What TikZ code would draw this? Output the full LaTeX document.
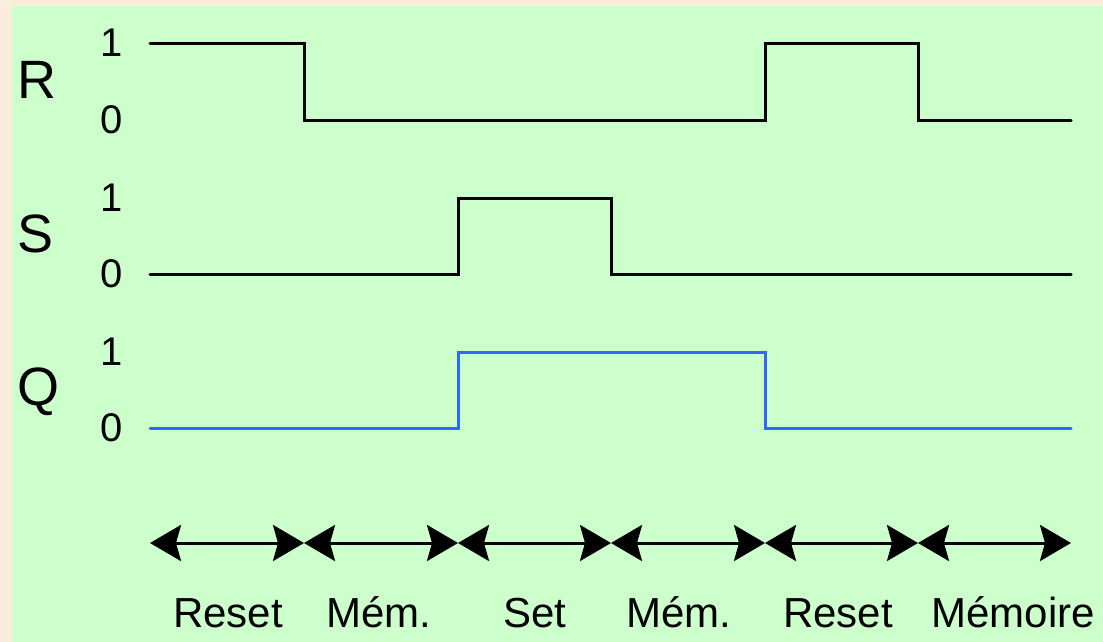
\documentclass[tikz,border=0pt]{standalone}
\usepackage{fontspec}
\setmainfont{Liberation Sans}
\usetikzlibrary{arrows.meta}
\definecolor{bgpeach}{HTML}{FBEDDB}
\definecolor{panelgreen}{HTML}{CCFFCC}
\definecolor{qblue}{HTML}{3366FF}
\begin{document}
\begin{tikzpicture}[x=1pt,y=-1pt,
  sig/.style={line width=3pt, line join=miter, line cap=round},
  qsig/.style={sig, draw=qblue},
  signame/.style={anchor=base west, inner sep=0pt, font=\fontsize{54}{60}\selectfont},
  lvl/.style={anchor=base, inner sep=0pt, font=\fontsize{40}{46}\selectfont},
  phase/.style={anchor=base, inner sep=0pt, font=\fontsize{42}{48}\selectfont},
  span/.style={line width=3pt, {Stealth[length=31pt,width=36pt,inset=5pt]}-{Stealth[length=31pt,width=36pt,inset=5pt]}}
]
\useasboundingbox (0,0) rectangle (1103,642);
\fill[bgpeach] (0,0) rectangle (1103,642);
\fill[panelgreen] (12,6) rectangle (1103,642);

% signal names
\node[signame] (nR) at (17,99) {R};
\node[signame] (nS) at (17,252) {S};
\node[signame] (nQ) at (17,405) {Q};

% level labels
\node[lvl] (r1) at (112,57) {1};
\node[lvl] (r0) at (112,133) {0};
\node[lvl] (s1) at (112,211) {1};
\node[lvl] (s0) at (112,287) {0};
\node[lvl] (q1) at (112,365) {1};
\node[lvl] (q0) at (112,441) {0};

% waveforms
\draw[sig] (150,44) -- (304,44) -- (304,120) -- (765,120) -- (765,44) -- (918,44) -- (918,120) -- (1071,120);
\draw[sig] (150,274) -- (458,274) -- (458,198) -- (611,198) -- (611,274) -- (1071,274);
\draw[qsig] (150,428) -- (458,428) -- (458,352) -- (765,352) -- (765,428) -- (1071,428);

% time marks
\coordinate (t0) at (150,543);
\coordinate (t1) at (304,543);
\coordinate (t2) at (458,543);
\coordinate (t3) at (611,543);
\coordinate (t4) at (765,543);
\coordinate (t5) at (918,543);
\coordinate (t6) at (1071,543);

\draw[span] (t0) -- (t1);
\draw[span] (t1) -- (t2);
\draw[span] (t2) -- (t3);
\draw[span] (t3) -- (t4);
\draw[span] (t4) -- (t5);
\draw[span] (t5) -- (t6);

% phase labels
\node[phase] (p1) at (228,627) {Reset};
\node[phase] (p2) at (379,627) {Mém.};
\node[phase] (p3) at (535,627) {Set};
\node[phase] (p4) at (679,627) {Mém.};
\node[phase] (p5) at (838,627) {Reset};
\node[phase] (p6) at (1013,627) {Mémoire};
\end{tikzpicture}
\end{document}
